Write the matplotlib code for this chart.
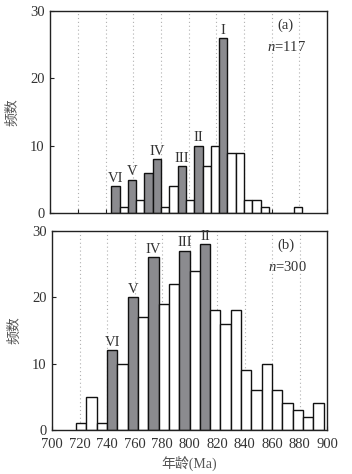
"""
Age histograms of detrital zircons, panels (a) and (b)
"""
import numpy as np
import matplotlib
matplotlib.use('Agg')
import matplotlib.pyplot as plt

plt.rcParams['font.family'] = ['Liberation Serif', 'Noto Sans CJK SC']
plt.rcParams['axes.unicode_minus'] = False
plt.rcParams['mathtext.fontset'] = 'custom'
plt.rcParams['mathtext.rm'] = 'Liberation Serif'
plt.rcParams['mathtext.it'] = 'Liberation Serif:italic'

# Panel (a): bins of 6 Ma starting at 744 Ma
a_start, a_width = 744, 6
a_counts = [4, 1, 5, 2, 6, 8, 1, 4, 7, 2, 10, 7, 10, 26, 9, 9, 2, 2, 1, 0, 0, 0, 1]
a_peaks = [0, 2, 4, 5, 8, 10, 13]          # gray bars
a_labels = {0: 'VI', 2: 'V', 5: 'IV', 8: 'III', 10: 'II', 13: 'I'}

# Panel (b): bins of 7.5 Ma starting at 717.5 Ma
b_start, b_width = 717.5, 7.5
b_counts = [1, 5, 1, 12, 10, 20, 17, 26, 19, 22, 27, 24, 28, 18, 16, 18, 9, 6, 10, 6, 4, 3, 2, 4]
b_peaks = [3, 5, 7, 10, 12]
b_labels = {3: 'VI', 5: 'V', 7: 'IV', 10: 'III', 12: 'II'}

GRAY = '#8b8b8f'
TXT = '#333333'


def draw_panel(ax, start, width, counts, peaks, labels, tag, n):
    edges = start + width * np.arange(len(counts))
    colors = [GRAY if i in peaks else 'white' for i in range(len(counts))]
    for x in range(720, 900, 20):
        ax.axvline(x, color='#b0b0b0', ls=(0, (1, 2.5)), lw=0.8, zorder=0)
    ax.bar(edges, counts, width=width, align='edge', color=colors,
           edgecolor='#111111', linewidth=1.0, zorder=2)
    for i, lab in labels.items():
        ax.text(edges[i] + width / 2, counts[i] + 0.2, lab, ha='center', va='bottom',
                fontsize=10.5, color=TXT, clip_on=False, zorder=3)
    ax.text(870, 27.8, tag, ha='center', va='center', fontsize=10.5, color=TXT)
    ax.text(871, 24.6, r'$n$=' + str(n), ha='center', va='center', fontsize=10.5, color=TXT)
    ax.set_xlim(700, 900)
    ax.set_ylim(0, 30)
    ax.set_yticks([0, 10, 20, 30])
    ax.set_xticks(np.arange(700, 901, 20))
    ax.tick_params(direction='in', length=3, width=0.8, labelsize=10.5, colors='#222222',
                   labelcolor=TXT)
    ax.tick_params(axis='x', pad=6)
    ax.tick_params(axis='y', pad=4)
    for s in ax.spines.values():
        s.set_color('#222222')
        s.set_linewidth(1.0)
    ax.set_ylabel('频数', fontsize=10, color='#555555', labelpad=8)


fig = plt.figure(figsize=(3.52, 4.74), dpi=100)
ax1 = fig.add_axes([0.143, 0.550, 0.786, 0.427])
ax2 = fig.add_axes([0.148, 0.093, 0.781, 0.420])

draw_panel(ax1, a_start, a_width, a_counts, a_peaks, a_labels, '(a)', 117)
ax1.tick_params(labelbottom=False)
draw_panel(ax2, b_start, b_width, b_counts, b_peaks, b_labels, '(b)', 300)
ax2.set_xlabel('年龄(Ma)', fontsize=10, color='#555555', labelpad=3)

fig.savefig('out.png', dpi=100, facecolor='white')
